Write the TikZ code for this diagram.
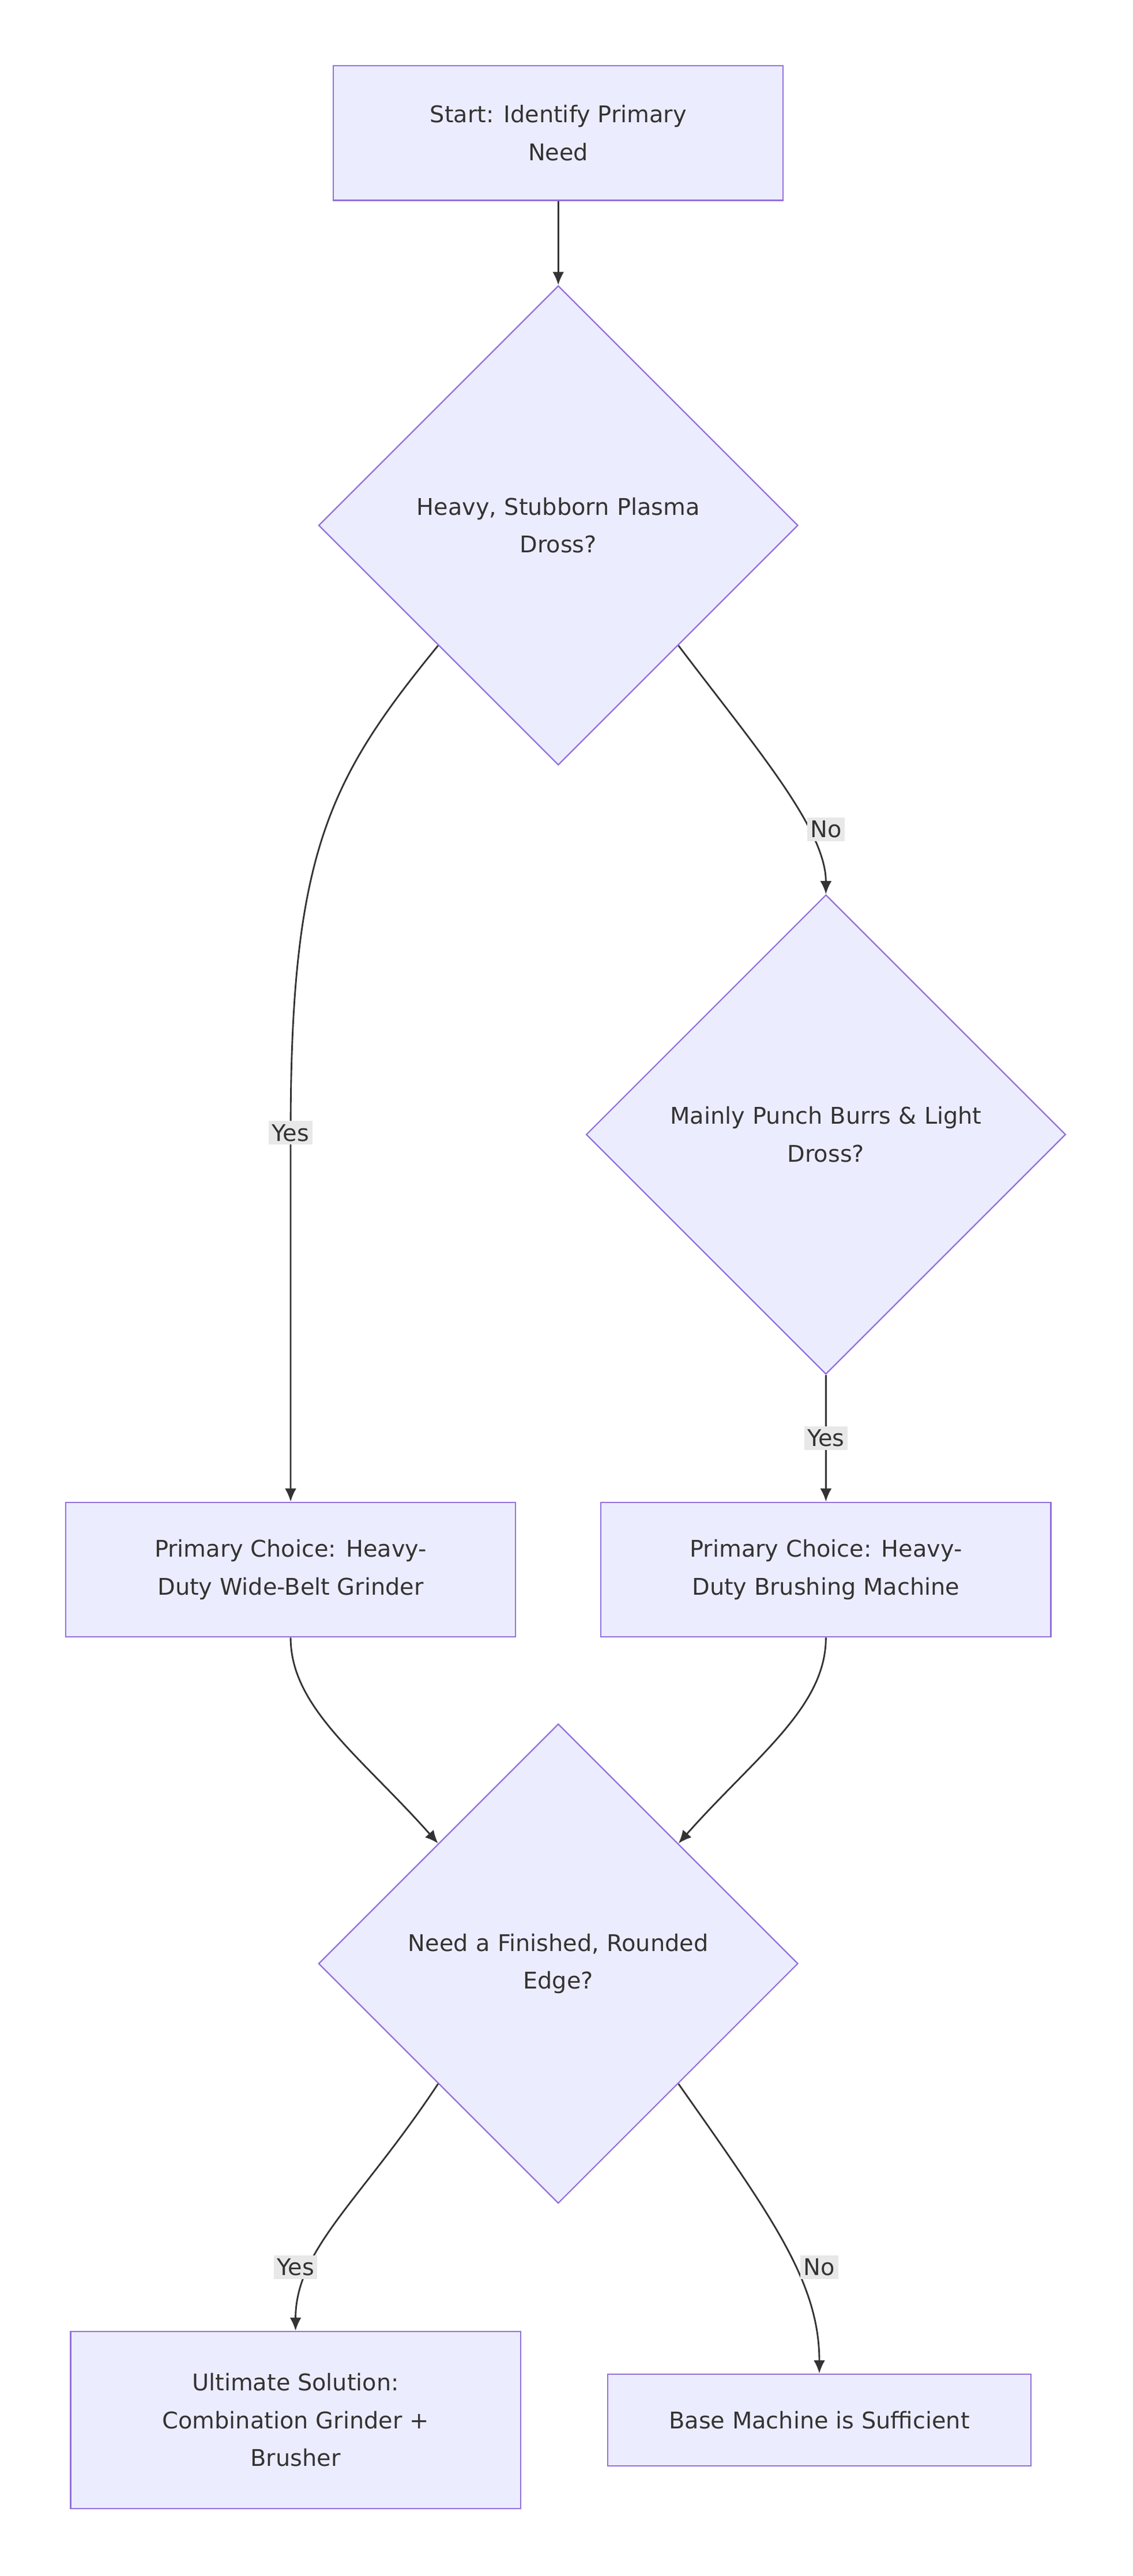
\documentclass[tikz,border=0pt]{standalone}
\usepackage{fontspec}
\setmainfont{DejaVu Sans}
\usetikzlibrary{shapes.geometric,arrows.meta}
\definecolor{nfill}{HTML}{ECECFF}
\definecolor{nline}{HTML}{9370DB}
\definecolor{eline}{HTML}{333333}
\definecolor{lfill}{HTML}{E8E8E8}
\begin{document}
\begin{tikzpicture}[x=1pt,y=-1pt,
  every node/.style={font=\fontsize{14}{23}\selectfont, text=eline},
  box/.style={draw=nline, fill=nfill, line width=0.8pt, align=center, inner sep=0},
  dia/.style={diamond, draw=nline, fill=nfill, line width=0.8pt, align=center, text width=200pt, minimum width=292pt, minimum height=292pt, inner sep=0, aspect=1},
  lab/.style={fill=lfill, inner sep=2pt, font=\fontsize{14}{16}\selectfont},
  edge/.style={draw=eline, line width=1pt, -{Latex[length=8pt,width=7pt]}}]
\useasboundingbox (0,0) rectangle (690,1569);
\node[box, minimum width=274pt, minimum height=82pt] (s) at (340,81) {Start: Identify Primary\\Need};
\node[dia] (d1) at (340,320) {Heavy, Stubborn Plasma\\Dross?};
\node[dia] (d2) at (503,691) {Mainly Punch Burrs \& Light\\Dross?};
\node[box, minimum width=274pt, minimum height=82pt] (b1) at (177,956) {Primary Choice: Heavy-\\Duty Wide-Belt Grinder};
\node[box, minimum width=274pt, minimum height=82pt] (b2) at (503,956) {Primary Choice: Heavy-\\Duty Brushing Machine};
\node[dia] (d3) at (340,1196) {Need a Finished, Rounded\\Edge?};
\node[box, minimum width=274pt, minimum height=108pt] (b3) at (180,1474) {Ultimate Solution:\\Combination Grinder +\\Brusher};
\node[box, minimum width=258pt, minimum height=56pt] (b4) at (499,1474) {Base Machine is Sufficient};

\draw[edge] (s.south) -- (d1.north);
\draw[edge] (d1.south west) .. controls (200,475) and (177,520) .. (177,690) -- (b1.north);
\node[lab] (l1) at (177,690) {Yes};
\draw[edge] (d1.south east) .. controls (460,455) and (503,505) .. (d2.north);
\node[lab] (l2) at (503,505) {No};
\draw[edge] (d2.south) -- (b2.north);
\node[lab] (l3) at (503,876) {Yes};
\draw[edge] (b1.south) .. controls (177,1040) and (220,1070) .. (d3.north west);
\draw[edge] (b2.south) .. controls (503,1040) and (460,1070) .. (d3.north east);
\draw[edge] (d3.south west) .. controls (220,1340) and (180,1370) .. (b3.north);
\node[lab] (l4) at (180,1381) {Yes};
\draw[edge] (d3.south east) .. controls (470,1350) and (499,1390) .. (b4.north);
\node[lab] (l5) at (499,1381) {No};
\end{tikzpicture}
\end{document}
